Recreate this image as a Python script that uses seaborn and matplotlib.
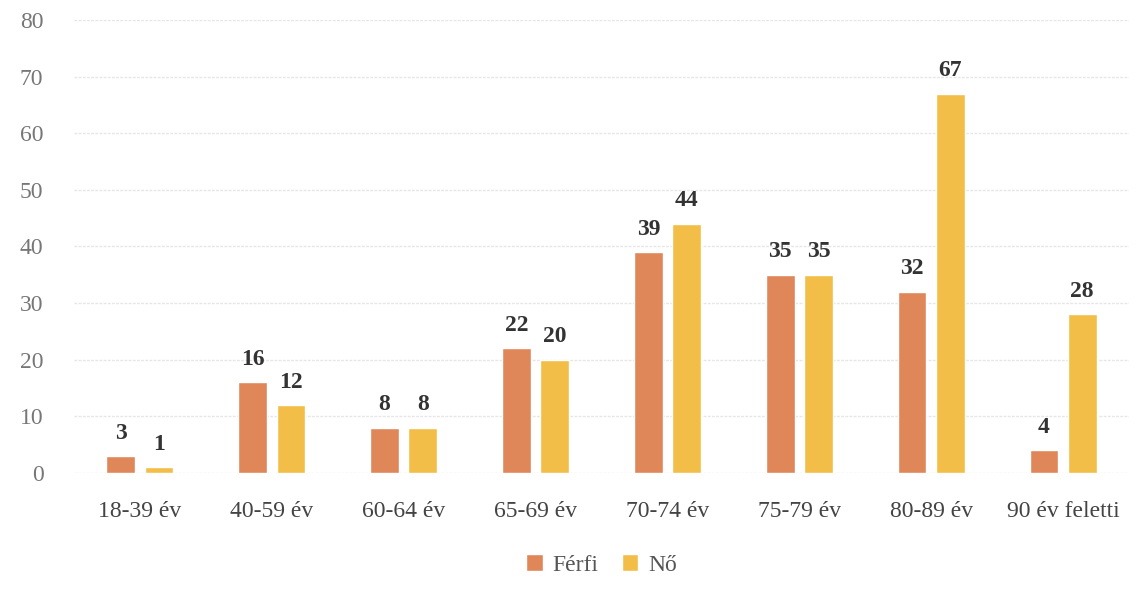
import pandas as pd
import matplotlib.pyplot as plt
import seaborn as sns

categories = ["18-39 év", "40-59 év", "60-64 év", "65-69 év", "70-74 év", "75-79 év", "80-89 év", "90 év feletti"]
ferfi = [3, 16, 8, 22, 39, 35, 32, 4]
no = [1, 12, 8, 20, 44, 35, 67, 28]
series = ["Férfi", "Nő"]
colors = ["#E0875A", "#F2BE48"]

df = pd.DataFrame({
    "kat": categories * 2,
    "ertek": ferfi + no,
    "nem": [series[0]] * len(categories) + [series[1]] * len(categories),
})

sns.set_theme(style="white")
plt.rcParams['font.family'] = ['Liberation Serif', 'DejaVu Serif']

fig = plt.figure(figsize=(11.44, 5.98), dpi=100)
ax = fig.add_axes([74 / 1144, 125 / 598, 1055 / 1144, 453 / 598])

sns.barplot(data=df, x="kat", y="ertek", hue="nem", palette=colors,
            width=0.58, gap=0.25, ax=ax, saturation=1)

for c in ax.containers:
    ax.bar_label(c, padding=9, fontsize=17, color="#333333", fontweight="bold")

ax.set_ylim(0, 80)
ax.set_yticks(range(0, 81, 10))
ax.set_xlim(-0.5, len(categories) - 0.5)
ax.yaxis.grid(True, color="#e6e6e6", linewidth=1, linestyle=(0, (2, 1)))
ax.set_axisbelow(True)
ax.set_xlabel("")
ax.set_ylabel("")
for s in ax.spines.values():
    s.set_visible(False)
ax.tick_params(axis="y", labelsize=17, labelcolor="#777777", pad=22, length=0)
ax.tick_params(axis="x", labelsize=17, labelcolor="#444444", pad=20, length=0)

ax.legend(loc="upper center", bbox_to_anchor=(0.5, -0.132), ncol=2, frameon=False,
          fontsize=17, handlelength=0.7, handleheight=0.7, handletextpad=0.4,
          columnspacing=1.0, labelcolor="#555555")

fig.savefig("out.png", dpi=100)
